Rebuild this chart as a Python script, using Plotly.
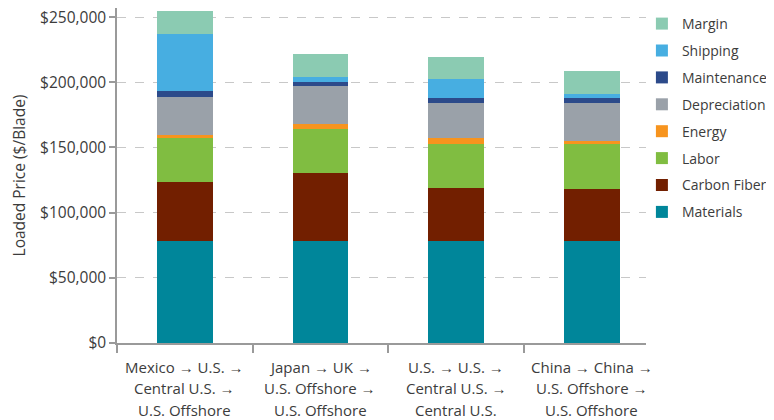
import plotly.graph_objects as go

# --- data ---
routes = [
    "Mexico → U.S. →<br>Central U.S. →<br>U.S. Offshore",
    "Japan → UK →<br>U.S. Offshore →<br>U.S. Offshore",
    "U.S. → U.S. →<br>Central U.S. →<br>Central U.S.",
    "China → China →<br>U.S. Offshore →<br>U.S. Offshore",
]
materials    = [78000, 78000, 78000, 78000]
carbon_fiber = [45500, 52800, 41200, 39900]
labor        = [33400, 33000, 33500, 34800]
energy       = [3000, 4300, 4400, 2600]
depreciation = [28500, 28700, 26900, 28700]
maintenance  = [4600, 3100, 4100, 4100]
shipping     = [44200, 4100, 14300, 3000]
margin       = [17200, 17600, 17200, 17500]

y_ticks = [0, 50000, 100000, 150000, 200000, 250000]

series = [
    ("Materials", materials, "#00869A"),
    ("Carbon Fiber", carbon_fiber, "#721F00"),
    ("Labor", labor, "#80BD41"),
    ("Energy", energy, "#F7941E"),
    ("Depreciation", depreciation, "#9AA1A9"),
    ("Maintenance", maintenance, "#2C4A8A"),
    ("Shipping", shipping, "#47AEE1"),
    ("Margin", margin, "#8BCBB2"),
]

FONT = "Open Sans, Liberation Sans, sans-serif"
TXT = "#3c3c3c"

fig = go.Figure()
for i, (name, vals, col) in enumerate(series):
    fig.add_trace(go.Bar(
        x=routes, y=vals, name=name, legendgroup=name,
        legendrank=100 - i,  # Margin on top of the legend
        marker=dict(color=col, line=dict(width=0)),
        width=0.41,
    ))

# multi-line category labels (wider line spacing than plotly's tick labels)
for r in routes:
    for j, line in enumerate(r.split("<br>")):
        fig.add_annotation(
            x=r, y=0, xref="x", yref="paper", text=line, showarrow=False,
            yanchor="middle", yshift=-23.5 - 21.5 * j,
            font=dict(family=FONT, size=15, color=TXT),
        )

# note: the page body adds an 8px offset, margins account for it
fig.update_layout(
    width=774, height=420,
    barmode="stack",
    plot_bgcolor="white", paper_bgcolor="white",
    margin=dict(l=109, r=136, t=0, b=85, autoexpand=False),
    font=dict(family=FONT, size=15, color=TXT),
    legend=dict(
        traceorder="grouped", tracegroupgap=5.7,
        x=0.819, xref="container", xanchor="left",
        y=1.021, yref="container", yanchor="top",
        font=dict(family=FONT, size=14, color=TXT),
        bgcolor="rgba(0,0,0,0)",
    ),
    showlegend=True,
)

fig.update_xaxes(
    range=[-0.5, 3.4], showticklabels=False,
    showline=True, linecolor="#9a9a9a", linewidth=1.5,
    ticks="outside", tickson="boundaries", ticklen=8, tickcolor="#9a9a9a", tickwidth=1.5,
    showgrid=False,
)
fig.update_yaxes(
    range=[0, 257000], tickvals=y_ticks,
    ticktext=[f"${v:,.0f}" for v in y_ticks],
    tickfont=dict(family=FONT, size=15.5, color=TXT),
    ticklabeloverflow="allow",
    showline=True, linecolor="#9a9a9a", linewidth=1.5,
    ticks="outside", ticklen=6, tickcolor="#9a9a9a", tickwidth=1.5,
    showgrid=True, gridcolor="#c8c8c8", griddash="dash", gridwidth=1,
    zeroline=False,
    title=dict(text="Loaded Price ($/Blade)", standoff=12,
               font=dict(family=FONT, size=15.5, color=TXT)),
)

fig.write_html("out.html")
